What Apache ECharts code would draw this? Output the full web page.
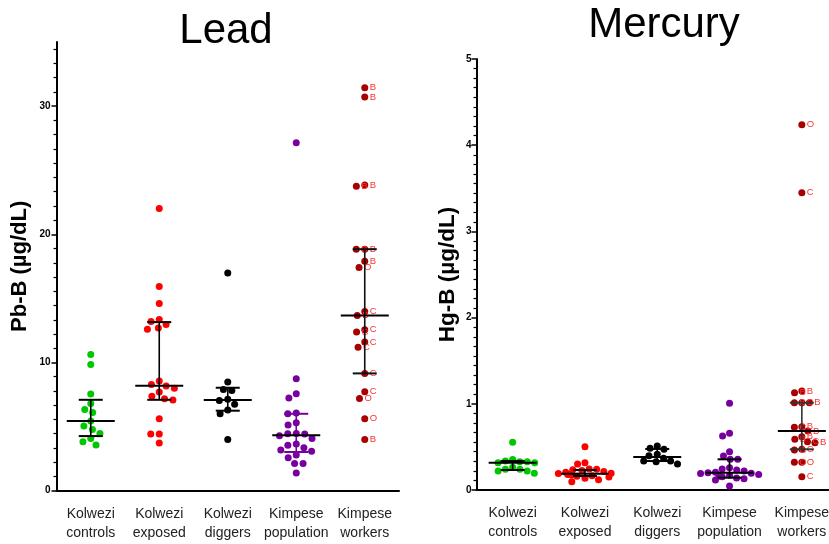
<!DOCTYPE html>
<html><head><meta charset="utf-8">
<script src="https://cdn.jsdelivr.net/npm/echarts@6/dist/echarts.min.js"></script>
<style>html,body{margin:0;padding:0;background:#fff;overflow:hidden;width:829px;height:544px}#c{width:850px;height:544px}</style>
</head><body><div id="c"></div>
<script>
// ---------- data ----------
const categories = ['Kolwezi\ncontrols', 'Kolwezi\nexposed', 'Kolwezi\ndiggers', 'Kimpese\npopulation', 'Kimpese\nworkers'];

// Lead, Pb-B (µg/dL)
const leadControls   = [10.63, 9.85, 7.54, 6.81, 6.34, 6.1, 5.43, 5.04, 4.78, 4.47, 4.08, 3.82, 3.56];
const leadExposed    = [22.01, 15.93, 14.6, 13.36, 13.2, 12.97, 12.7, 12.6, 8.55, 8.29, 8.16, 8.0, 7.69, 7.36, 7.17, 7.07, 5.61, 4.42, 4.42, 3.72];
const leadDiggers    = [16.98, 8.47, 7.9, 7.82, 7.14, 7.04, 6.75, 6.29, 6.0, 4.0];
const leadPopulation = [27.15, 8.73, 7.56, 7.23, 6.06, 6.0, 5.3, 5.12, 4.47, 4.44, 4.42, 4.29, 4.08, 3.64, 3.54, 3.35, 3.17, 3.07, 2.78, 2.57, 2.13, 2.13, 1.38];
const leadWorkers    = [31.44, 30.71, 23.85, 23.75, 18.84, 18.84, 17.9, 17.41, 13.98, 13.67, 12.55, 12.37, 11.59, 11.18, 9.15, 7.72, 7.2, 5.61, 4.0];
const leadWorkerTags = ['B', 'B', 'B', 'B', 'B', 'B', 'B', 'O', 'C', 'B', 'C', 'C', 'C', 'C', 'C', 'C', 'O', 'O', 'B'];
const leadMedian = [5.43, 8.19, 7.07, 4.32, 13.67];
const leadQ1     = [4.26, 7.09, 6.24, 3.02, 9.15];
const leadQ3     = [7.09, 13.15, 8.03, 6.0, 18.84];
const leadTicks  = [0, 10, 20, 30];

// Mercury, Hg-B (µg/dL)
const hgControls   = [0.553, 0.355, 0.336, 0.328, 0.328, 0.317, 0.317, 0.263, 0.24, 0.24, 0.22, 0.22, 0.193];
const hgExposed    = [0.502, 0.317, 0.302, 0.245, 0.24, 0.235, 0.225, 0.215, 0.205, 0.195, 0.19, 0.185, 0.18, 0.175, 0.165, 0.16, 0.15, 0.135, 0.12, 0.096];
const hgDiggers    = [0.51, 0.484, 0.472, 0.414, 0.398, 0.368, 0.336, 0.336, 0.328, 0.302];
const hgPopulation = [1.006, 0.658, 0.626, 0.445, 0.394, 0.356, 0.356, 0.259, 0.245, 0.232, 0.22, 0.205, 0.2, 0.193, 0.19, 0.18, 0.17, 0.16, 0.155, 0.14, 0.13, 0.116, 0.046];
const hgWorkers    = [4.238, 3.449, 1.148, 1.129, 1.013, 1.013, 1.013, 0.735, 0.727, 0.684, 0.618, 0.588, 0.56, 0.549, 0.472, 0.464, 0.321, 0.321, 0.155];
const hgWorkerTags = ['O', 'C', 'B', 'B', 'C', 'B', 'B', 'B', 'C', 'B', 'B', 'B', 'C', 'B', 'C', 'C', 'O', 'O', 'C'];
const hgMedian = [0.317, 0.189, 0.383, 0.2, 0.684];
const hgQ1     = [0.232, 0.162, 0.336, 0.143, 0.472];
const hgQ3     = [0.336, 0.232, 0.476, 0.356, 1.013];

// ---------- styling ----------
const FONT = '"Liberation Sans", Arial, Helvetica, sans-serif';
const groupColors = ['#00c800', '#ff0000', '#000000', '#77009e', '#a80000'];
const leadBarColors = ['#000', '#000', '#000', '#77009e', '#111'];
const hgBarColors = ['#000', '#000', '#000', '#000', '#333'];

// minor tick values for lead axis (9 subdivisions per 10 units)
const leadMinor = [];
for (let k = 1; k * 10 / 9 < 35; k++) { if (k % 9 !== 0) leadMinor.push(+(k * 10 / 9).toFixed(4)); }

function scatter(values, gi, xi, yi, tags) {
  const s = {
    type: 'scatter', xAxisIndex: xi, yAxisIndex: yi, symbolSize: 7, z: 2, silent: true,
    itemStyle: { color: groupColors[gi], opacity: 1 },
    data: values.map(v => [gi, v])
  };
  if (tags) {
    s.label = { show: true, position: 'right', distance: 1.5, fontSize: 9.5, color: '#ff3030', fontFamily: FONT,
      formatter: p => tags[p.dataIndex] };
  }
  return s;
}

function errorBars(med, q1, q3, xi, yi, colors) {
  return {
    type: 'custom', xAxisIndex: xi, yAxisIndex: yi, z: 5, silent: true,
    encode: { x: 0, y: 1 },
    data: med.map((m, i) => [i, m, q1[i], q3[i]]),
    renderItem(params, api) {
      const i = api.value(0);
      const pm = api.coord([i, api.value(1)]);
      const p1 = api.coord([i, api.value(2)]);
      const p3 = api.coord([i, api.value(3)]);
      const c = colors[i];
      const x = pm[0];
      const st = { stroke: c, lineWidth: 2 };
      return { type: 'group', children: [
        { type: 'line', shape: { x1: x, y1: p1[1], x2: x, y2: p3[1] }, style: { stroke: c, lineWidth: 1.6 } },
        { type: 'line', shape: { x1: x - 12, y1: p1[1], x2: x + 12, y2: p1[1] }, style: st },
        { type: 'line', shape: { x1: x - 12, y1: p3[1], x2: x + 12, y2: p3[1] }, style: st },
        { type: 'line', shape: { x1: x - 24, y1: pm[1], x2: x + 24, y2: pm[1] }, style: { stroke: '#000', lineWidth: 2 } }
      ] };
    }
  };
}

function xAxisCfg(gridIndex, jitter, margin) {
  return {
    type: 'category', gridIndex, data: categories, boundaryGap: true,
    jitter, jitterOverlap: false, jitterMargin: margin,
    axisLine: { lineStyle: { color: '#000', width: 2 } },
    axisTick: { alignWithLabel: true, length: 6, lineStyle: { color: '#000', width: 1.5 } },
    axisLabel: { interval: 0, fontSize: 14, lineHeight: 19, color: '#222', margin: 14, fontFamily: FONT },
    splitLine: { show: false }
  };
}

const chart = echarts.init(document.getElementById('c'), null, { renderer: 'canvas' });
chart.setOption({
  animation: false,
  backgroundColor: '#fff',
  title: [
    { text: 'Lead', left: 226, top: 10, textAlign: 'center', padding: 0,
      textStyle: { fontSize: 42, fontWeight: 'normal', color: '#000', fontFamily: FONT } },
    { text: 'Mercury', left: 664, top: 4, textAlign: 'center', padding: 0,
      textStyle: { fontSize: 42, fontWeight: 'normal', color: '#000', fontFamily: FONT } }
  ],
  grid: [
    { left: 56.5, top: 42, width: 342.5, height: 448.7, containLabel: false },
    { left: 476.5, top: 59, width: 361.5, height: 431, containLabel: false }
  ],
  xAxis: [xAxisCfg(0, 60, 1.5), xAxisCfg(1, 60, 0.5)],
  yAxis: [
    { type: 'value', gridIndex: 0, min: 0, max: 35, interval: 10,
      name: 'Pb-B (µg/dL)', nameLocation: 'middle', nameGap: 26, nameRotate: 90,
      nameTextStyle: { fontSize: 22, fontWeight: 'bold', color: '#000', fontFamily: FONT },
      axisLine: { show: true, lineStyle: { color: '#000', width: 2 } },
      axisTick: { show: true, length: 5, customValues: leadTicks, lineStyle: { color: '#000', width: 1.5 } },
      axisLabel: { customValues: leadTicks, fontSize: 10, fontWeight: 'bold', color: '#000', margin: 6, fontFamily: FONT },
      splitLine: { show: false } },
    { type: 'value', gridIndex: 1, min: 0, max: 5, interval: 1,
      name: 'Hg-B (µg/dL)', nameLocation: 'middle', nameGap: 17, nameRotate: 90,
      nameTextStyle: { fontSize: 22.5, fontWeight: 'bold', color: '#000', fontFamily: FONT },
      axisLine: { show: true, lineStyle: { color: '#000', width: 2 } },
      axisTick: { show: true, length: 5, lineStyle: { color: '#000', width: 1.5 } },
      minorTick: { show: true, splitNumber: 9, length: 3, lineStyle: { color: '#000', width: 1.2 } },
      axisLabel: { fontSize: 10, fontWeight: 'bold', color: '#000', margin: 5, fontFamily: FONT },
      splitLine: { show: false }, minorSplitLine: { show: false } },
    { type: 'value', gridIndex: 0, min: 0, max: 35, position: 'left',
      axisLine: { show: false },
      axisTick: { show: true, length: 3, customValues: leadMinor, lineStyle: { color: '#000', width: 1.2 } },
      axisLabel: { show: false }, splitLine: { show: false } }
  ],
  series: [
    scatter(leadControls, 0, 0, 0),
    scatter(leadExposed, 1, 0, 0),
    scatter(leadDiggers, 2, 0, 0),
    scatter(leadPopulation, 3, 0, 0),
    scatter(leadWorkers, 4, 0, 0, leadWorkerTags),
    errorBars(leadMedian, leadQ1, leadQ3, 0, 0, leadBarColors),
    scatter(hgControls, 0, 1, 1),
    scatter(hgExposed, 1, 1, 1),
    scatter(hgDiggers, 2, 1, 1),
    scatter(hgPopulation, 3, 1, 1),
    scatter(hgWorkers, 4, 1, 1, hgWorkerTags),
    errorBars(hgMedian, hgQ1, hgQ3, 1, 1, hgBarColors)
  ]
});
</script>
</body></html>
